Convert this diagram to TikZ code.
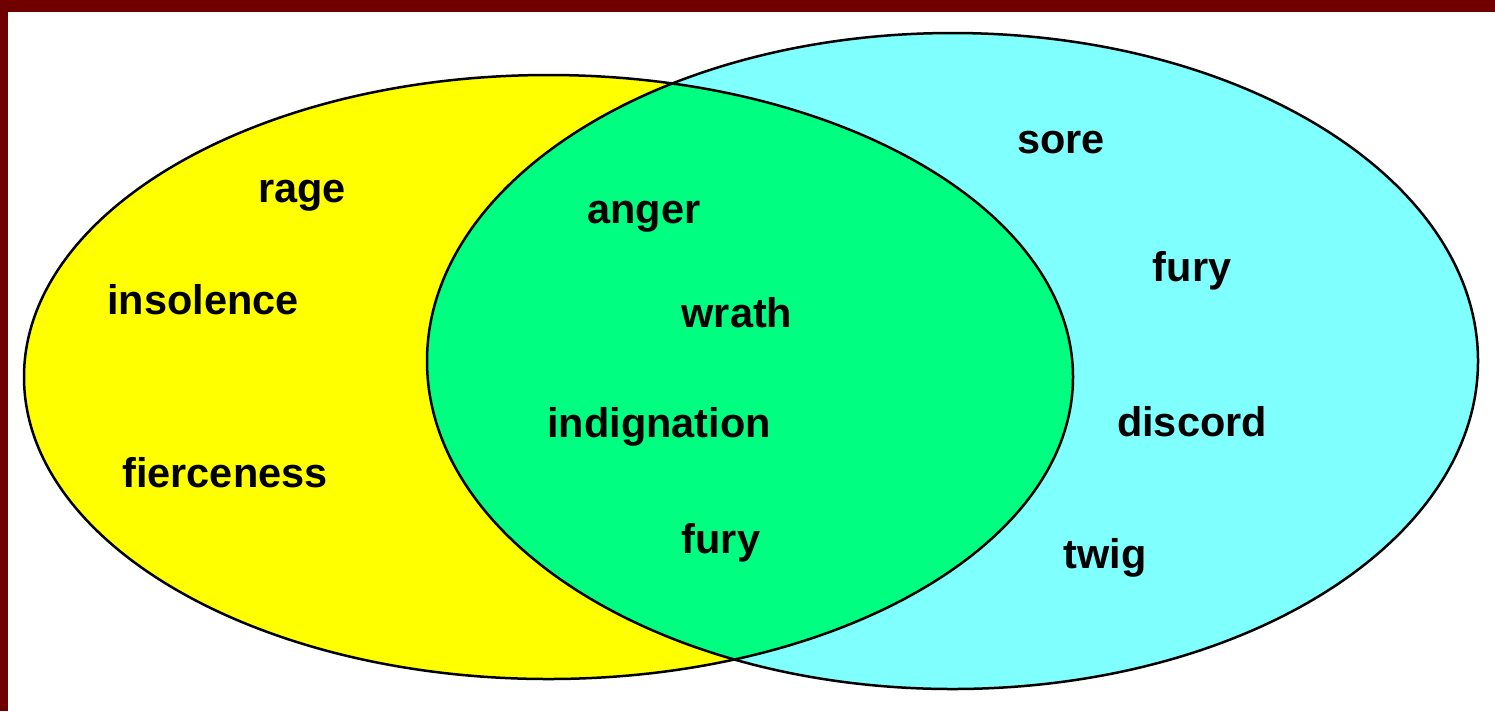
\documentclass[tikz,border=0pt]{standalone}
\usepackage{fontspec}
\setmainfont{Liberation Sans}
\definecolor{framered}{RGB}{112,0,0}
\definecolor{vennyellow}{RGB}{255,255,0}
\definecolor{venncyan}{RGB}{128,255,255}
\definecolor{venngreen}{RGB}{0,255,128}
\begin{document}
\begin{tikzpicture}
            [x=0.1mm, y=0.1mm,
             word/.style={font=\fontsize{11.8}{14}\selectfont\bfseries, inner sep=0pt},
             outline/.style={draw=black, line width=0.25mm}]
            \useasboundingbox (0, 0) rectangle (1495, 711);
            \fill[white] (0, 0) rectangle (1495, 711);
            \fill[framered] (0, 699) rectangle (1495, 711);
            \fill[framered] (0, 0) rectangle (8, 711);
            \fill
                [vennyellow]
                (548.5, 334) ellipse [x radius=52.45mm, y radius=30.2mm];
            \fill
                [venncyan]
                (952.5, 350) ellipse [x radius=52.55mm, y radius=32.8mm];
            \begin{scope}
                \clip (548.5, 334) ellipse [x radius=52.45mm, y radius=30.2mm];
                \fill[venngreen] (952.5, 350) ellipse [x radius=52.55mm, y radius=32.8mm];
            \end{scope}
            \draw[outline] (548.5, 334) ellipse [x radius=52.45mm, y radius=30.2mm];
            \draw[outline] (952.5, 350) ellipse [x radius=52.55mm, y radius=32.8mm];
            \node[word] (rage) at (302, 515) {rage};
            \node[word] (insolence) at (203, 411) {insolence};
            \node[word] (fierceness) at (225, 238) {fierceness};
            \node[word] (anger) at (644, 494) {anger};
            \node[word] (wrath) at (737, 398) {wrath};
            \node[word] (indignation) at (659, 284) {indignation};
            \node[word] (furyboth) at (721, 168) {fury};
            \node[word] (sore) at (1061, 568) {sore};
            \node[word] (furyright) at (1192, 440) {fury};
            \node[word] (discord) at (1192, 289) {discord};
            \node[word] (twig) at (1105, 153) {twig};
        \end{tikzpicture}
\end{document}
